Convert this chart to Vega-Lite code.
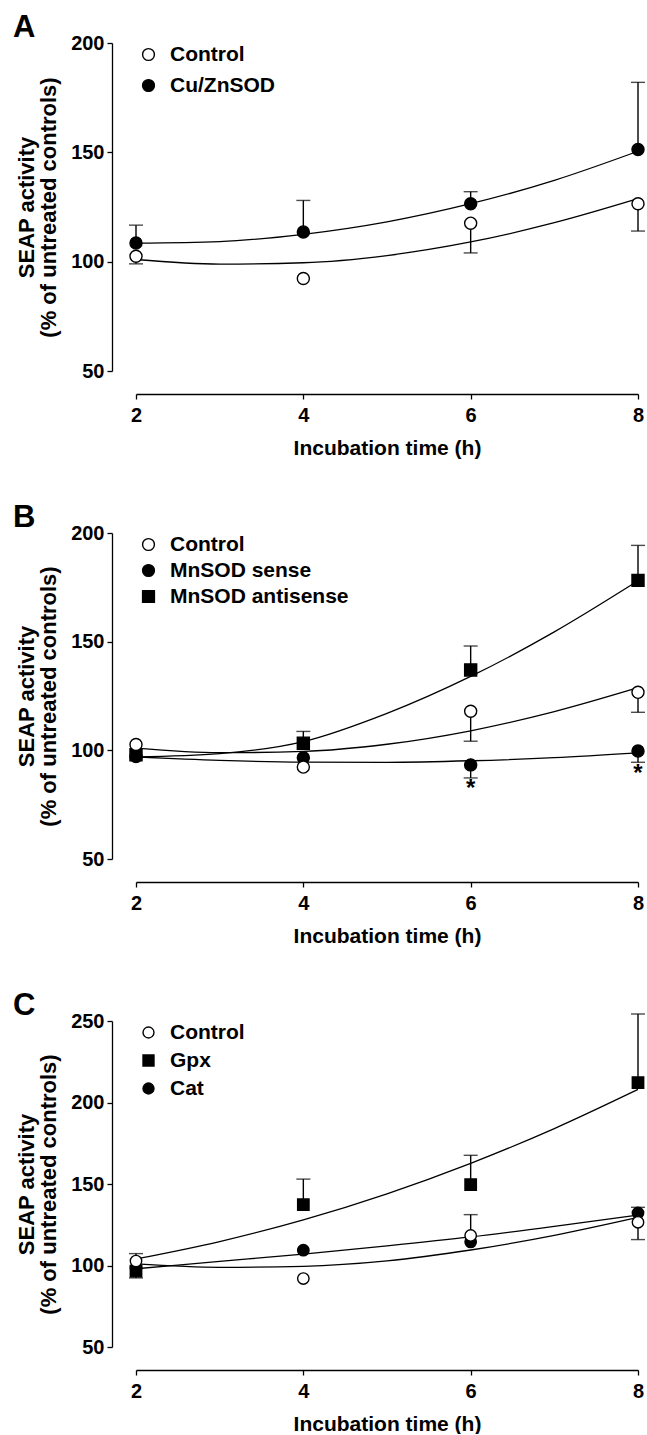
{
  "$schema": "https://vega.github.io/schema/vega-lite/v6.json",
  "padding": {"left": 13, "top": 12, "right": 0, "bottom": 0},
  "autosize": {"type": "pad"},
  "background": "white",
  "spacing": 162,
  "bounds": "flush",
  "config": {
    "font": "Liberation Sans",
    "view": {"stroke": null},
    "axis": {
      "domainColor": "black", "domainWidth": 1.3, "tickColor": "black", "tickWidth": 1.3, "tickSize": 5,
      "labelFont": "Liberation Sans", "labelFontSize": 20, "labelFontWeight": "bold", "labelColor": "black",
      "titleFont": "Liberation Sans", "titleFontSize": 21, "titleFontWeight": "bold", "titleColor": "black",
      "grid": false
    },
    "axisX": {"offset": 23, "labelPadding": 6, "titlePadding": 12, "labelFlush": false},
    "axisY": {"offset": 24, "labelPadding": 3, "titlePadding": 10, "titleFontSize": 22, "titleLineHeight": 22},
    "legend": {
      "orient": "none", "legendX": 2, "legendY": 1, "padding": 0, "labelFont": "Liberation Sans",
      "labelFontSize": 21, "labelFontWeight": "bold", "labelColor": "black", "labelOffset": 11, "labelLimit": 400,
      "symbolStrokeWidth": 1.4, "symbolSize": 140, "symbolOpacity": 1
    },
    "title": {"font": "Liberation Sans", "fontSize": 31, "fontWeight": "bold", "color": "black", "anchor": "start", "frame": "group"}
  },
  "resolve": {"scale": {"shape": "independent", "fill": "independent", "stroke": "independent"}, "legend": {"shape": "independent", "fill": "independent", "stroke": "independent"}},
  "datasets": {
    "pA": [
      {"t": 2, "v": 108.5, "s": "Cu/ZnSOD", "err": 116.7},
      {"t": 4, "v": 113.6, "s": "Cu/ZnSOD", "err": 128},
      {"t": 6, "v": 126.5, "s": "Cu/ZnSOD", "err": 132},
      {"t": 8, "v": 151.3, "s": "Cu/ZnSOD", "err": 182},
      {"t": 2, "v": 102.5, "s": "Control", "err": 99},
      {"t": 4, "v": 92.3, "s": "Control"},
      {"t": 6, "v": 117.6, "s": "Control", "err": 104},
      {"t": 8, "v": 126.5, "s": "Control", "err": 114}
    ],
    "cA": [
      {"t": 2, "v": 101, "s": "Control"}, {"t": 3, "v": 98.9, "s": "Control"}, {"t": 4, "v": 99.5, "s": "Control"},
      {"t": 5, "v": 102.8, "s": "Control"}, {"t": 6, "v": 109, "s": "Control"}, {"t": 7, "v": 117.8, "s": "Control"},
      {"t": 8, "v": 128.8, "s": "Control"},
      {"t": 2, "v": 108.5, "s": "Cu/ZnSOD"}, {"t": 3, "v": 109.2, "s": "Cu/ZnSOD"}, {"t": 4, "v": 112.5, "s": "Cu/ZnSOD"},
      {"t": 5, "v": 118.2, "s": "Cu/ZnSOD"}, {"t": 6, "v": 126.5, "s": "Cu/ZnSOD"}, {"t": 7, "v": 137.2, "s": "Cu/ZnSOD"},
      {"t": 8, "v": 150.5, "s": "Cu/ZnSOD"}
    ],
    "pB": [
      {"t": 2, "v": 98, "s": "MnSOD antisense"},
      {"t": 4, "v": 103.3, "s": "MnSOD antisense", "err": 108.7},
      {"t": 6, "v": 137, "s": "MnSOD antisense", "err": 148},
      {"t": 8, "v": 178.2, "s": "MnSOD antisense", "err": 194.3},
      {"t": 2, "v": 97.2, "s": "MnSOD sense"},
      {"t": 4, "v": 96.6, "s": "MnSOD sense"},
      {"t": 6, "v": 93.3, "s": "MnSOD sense", "err": 87.3},
      {"t": 8, "v": 99.7, "s": "MnSOD sense", "err": 94.5},
      {"t": 2, "v": 102.7, "s": "Control"},
      {"t": 4, "v": 92.3, "s": "Control"},
      {"t": 6, "v": 118, "s": "Control", "err": 104.2},
      {"t": 8, "v": 126.7, "s": "Control", "err": 117.5}
    ],
    "cB": [
      {"t": 2, "v": 101, "s": "Control"}, {"t": 3, "v": 98.9, "s": "Control"}, {"t": 4, "v": 99.5, "s": "Control"},
      {"t": 5, "v": 102.8, "s": "Control"}, {"t": 6, "v": 109, "s": "Control"}, {"t": 7, "v": 117.8, "s": "Control"},
      {"t": 8, "v": 128.8, "s": "Control"},
      {"t": 2, "v": 97, "s": "MnSOD sense"}, {"t": 3, "v": 95.4, "s": "MnSOD sense"}, {"t": 4, "v": 94.6, "s": "MnSOD sense"},
      {"t": 5, "v": 94.5, "s": "MnSOD sense"}, {"t": 6, "v": 95.2, "s": "MnSOD sense"}, {"t": 7, "v": 96.6, "s": "MnSOD sense"},
      {"t": 8, "v": 98.8, "s": "MnSOD sense"},
      {"t": 2, "v": 97, "s": "MnSOD antisense"}, {"t": 3, "v": 98.5, "s": "MnSOD antisense"}, {"t": 4, "v": 104, "s": "MnSOD antisense"},
      {"t": 5, "v": 117, "s": "MnSOD antisense"}, {"t": 6, "v": 134, "s": "MnSOD antisense"}, {"t": 7, "v": 154.5, "s": "MnSOD antisense"},
      {"t": 8, "v": 178, "s": "MnSOD antisense"}
    ],
    "sB": [
      {"t": 6, "v": 82, "label": "*"},
      {"t": 8, "v": 89, "label": "*"}
    ],
    "pC": [
      {"t": 2, "v": 96.5, "s": "Gpx", "err": 92.4},
      {"t": 4, "v": 137.3, "s": "Gpx", "err": 153},
      {"t": 6, "v": 149.6, "s": "Gpx", "err": 167.6},
      {"t": 8, "v": 212.2, "s": "Gpx", "err": 254.3},
      {"t": 2, "v": 98.5, "s": "Cat"},
      {"t": 4, "v": 109.4, "s": "Cat"},
      {"t": 6, "v": 114.5, "s": "Cat"},
      {"t": 8, "v": 132.2, "s": "Cat", "err": 135.7},
      {"t": 2, "v": 102.7, "s": "Control", "err": 107.3},
      {"t": 4, "v": 92, "s": "Control"},
      {"t": 6, "v": 118.4, "s": "Control", "err": 131.2},
      {"t": 8, "v": 126.5, "s": "Control", "err": 115.9}
    ],
    "cC": [
      {"t": 2, "v": 101, "s": "Control"}, {"t": 3, "v": 98.9, "s": "Control"}, {"t": 4, "v": 99.5, "s": "Control"},
      {"t": 5, "v": 102.8, "s": "Control"}, {"t": 6, "v": 109.5, "s": "Control"}, {"t": 7, "v": 118.5, "s": "Control"},
      {"t": 8, "v": 129.5, "s": "Control"},
      {"t": 2, "v": 104, "s": "Gpx"}, {"t": 3, "v": 114.7, "s": "Gpx"}, {"t": 4, "v": 128, "s": "Gpx"},
      {"t": 5, "v": 144, "s": "Gpx"}, {"t": 6, "v": 162.7, "s": "Gpx"}, {"t": 7, "v": 184, "s": "Gpx"},
      {"t": 8, "v": 208, "s": "Gpx"},
      {"t": 2, "v": 98, "s": "Cat"}, {"t": 3, "v": 102.5, "s": "Cat"}, {"t": 4, "v": 107, "s": "Cat"},
      {"t": 5, "v": 112, "s": "Cat"}, {"t": 6, "v": 117.5, "s": "Cat"}, {"t": 7, "v": 124, "s": "Cat"},
      {"t": 8, "v": 131, "s": "Cat"}
    ]
  },
  "vconcat": [
    {
      "width": 502, "height": 328,
      "title": {"text": "A", "dx": -123, "offset": 2, "dy": 13},
      "encoding": {
        "x": {"field": "t", "type": "quantitative", "scale": {"domain": [2, 8], "nice": false, "zero": false},
              "axis": {"values": [2, 4, 6, 8], "title": "Incubation time (h)"}},
        "y": {"field": "v", "type": "quantitative", "scale": {"domain": [50, 200], "nice": false, "zero": false},
              "axis": {"values": [50, 100, 150, 200], "title": ["SEAP activity", "(% of untreated controls)"]}}
      },
      "layer": [
        {"data": {"name": "cA"}, "mark": {"type": "line", "color": "black", "strokeWidth": 1.3, "interpolate": "monotone"},
         "encoding": {"detail": {"field": "s"}}},
        {"data": {"name": "pA"}, "transform": [{"filter": "isValid(datum.err)"}],
         "mark": {"type": "rule", "color": "black", "strokeWidth": 1.4},
         "encoding": {"y2": {"field": "err"}}},
        {"data": {"name": "pA"}, "transform": [{"filter": "isValid(datum.err)"}],
         "mark": {"type": "tick", "orient": "horizontal", "color": "black", "size": 14, "thickness": 1.4},
         "encoding": {"y": {"field": "err", "type": "quantitative"}}},
        {"data": {"name": "pA"},
         "mark": {"type": "point", "filled": true, "strokeWidth": 1.4, "opacity": 1, "size": 145},
         "encoding": {
           "shape": {"field": "s", "type": "nominal", "scale": {"domain": ["Control", "Cu/ZnSOD"], "range": ["circle", "circle"]},
                     "legend": {"title": null, "rowPadding": 9}},
           "fill": {"field": "s", "type": "nominal", "scale": {"domain": ["Control", "Cu/ZnSOD"], "range": ["white", "black"]},
                    "legend": {"title": null, "rowPadding": 9}},
           "stroke": {"field": "s", "type": "nominal", "scale": {"domain": ["Control", "Cu/ZnSOD"], "range": ["black", "black"]},
                    "legend": {"title": null, "rowPadding": 9}}
         }}
      ]
    },
    {
      "width": 502, "height": 326,
      "title": {"text": "B", "dx": -123, "offset": 2, "dy": 13},
      "encoding": {
        "x": {"field": "t", "type": "quantitative", "scale": {"domain": [2, 8], "nice": false, "zero": false},
              "axis": {"values": [2, 4, 6, 8], "title": "Incubation time (h)"}},
        "y": {"field": "v", "type": "quantitative", "scale": {"domain": [50, 200], "nice": false, "zero": false},
              "axis": {"values": [50, 100, 150, 200], "title": ["SEAP activity", "(% of untreated controls)"]}}
      },
      "layer": [
        {"data": {"name": "cB"}, "mark": {"type": "line", "color": "black", "strokeWidth": 1.3, "interpolate": "monotone"},
         "encoding": {"detail": {"field": "s"}}},
        {"data": {"name": "pB"}, "transform": [{"filter": "isValid(datum.err)"}],
         "mark": {"type": "rule", "color": "black", "strokeWidth": 1.4},
         "encoding": {"y2": {"field": "err"}}},
        {"data": {"name": "pB"}, "transform": [{"filter": "isValid(datum.err)"}],
         "mark": {"type": "tick", "orient": "horizontal", "color": "black", "size": 14, "thickness": 1.4},
         "encoding": {"y": {"field": "err", "type": "quantitative"}}},
        {"data": {"name": "sB"},
         "mark": {"type": "text", "color": "black", "fontSize": 24, "fontWeight": "bold", "baseline": "middle"},
         "encoding": {"text": {"field": "label"}}},
        {"data": {"name": "pB"},
         "mark": {"type": "point", "filled": true, "strokeWidth": 1.4, "opacity": 1, "size": 145},
         "encoding": {
           "shape": {"field": "s", "type": "nominal", "scale": {"domain": ["Control", "MnSOD sense", "MnSOD antisense"], "range": ["circle", "circle", "square"]},
                     "legend": {"title": null, "rowPadding": 4}},
           "fill": {"field": "s", "type": "nominal", "scale": {"domain": ["Control", "MnSOD sense", "MnSOD antisense"], "range": ["white", "black", "black"]},
                    "legend": {"title": null, "rowPadding": 4}},
           "stroke": {"field": "s", "type": "nominal", "scale": {"domain": ["Control", "MnSOD sense", "MnSOD antisense"], "range": ["black", "black", "black"]},
                    "legend": {"title": null, "rowPadding": 4}}
         }}
      ]
    },
    {
      "width": 502, "height": 326,
      "title": {"text": "C", "dx": -123, "offset": 2, "dy": 13},
      "encoding": {
        "x": {"field": "t", "type": "quantitative", "scale": {"domain": [2, 8], "nice": false, "zero": false},
              "axis": {"values": [2, 4, 6, 8], "title": "Incubation time (h)"}},
        "y": {"field": "v", "type": "quantitative", "scale": {"domain": [50, 250], "nice": false, "zero": false},
              "axis": {"values": [50, 100, 150, 200, 250], "title": ["SEAP activity", "(% of untreated controls)"]}}
      },
      "layer": [
        {"data": {"name": "cC"}, "mark": {"type": "line", "color": "black", "strokeWidth": 1.3, "interpolate": "monotone"},
         "encoding": {"detail": {"field": "s"}}},
        {"data": {"name": "pC"}, "transform": [{"filter": "isValid(datum.err)"}],
         "mark": {"type": "rule", "color": "black", "strokeWidth": 1.4},
         "encoding": {"y2": {"field": "err"}}},
        {"data": {"name": "pC"}, "transform": [{"filter": "isValid(datum.err)"}],
         "mark": {"type": "tick", "orient": "horizontal", "color": "black", "size": 14, "thickness": 1.4},
         "encoding": {"y": {"field": "err", "type": "quantitative"}}},
        {"data": {"name": "pC"},
         "mark": {"type": "point", "filled": true, "strokeWidth": 1.4, "opacity": 1, "size": 130},
         "encoding": {
           "shape": {"field": "s", "type": "nominal", "scale": {"domain": ["Control", "Gpx", "Cat"], "range": ["circle", "square", "circle"]},
                     "legend": {"title": null, "rowPadding": 6, "symbolSize": 120}},
           "fill": {"field": "s", "type": "nominal", "scale": {"domain": ["Control", "Gpx", "Cat"], "range": ["white", "black", "black"]},
                    "legend": {"title": null, "rowPadding": 6, "symbolSize": 120}},
           "stroke": {"field": "s", "type": "nominal", "scale": {"domain": ["Control", "Gpx", "Cat"], "range": ["black", "black", "black"]},
                    "legend": {"title": null, "rowPadding": 6, "symbolSize": 120}}
         }}
      ]
    }
  ]
}
